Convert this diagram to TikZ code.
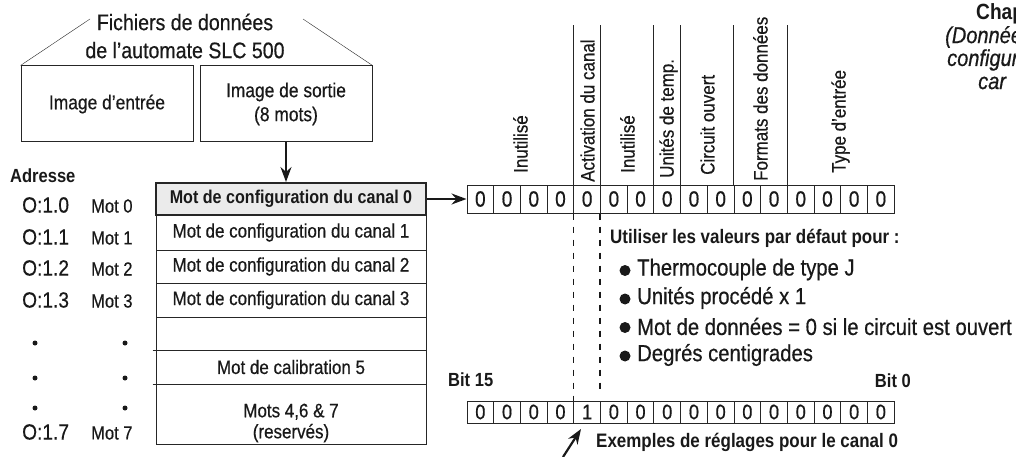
\documentclass[tikz,border=0pt]{standalone}
\usepackage{fontspec}
\setmainfont{Liberation Sans}[FakeStretch=0.87, UprightFeatures={FakeBold=0.5}, ItalicFeatures={FakeBold=0.5}]
\usetikzlibrary{arrows.meta,positioning}

\newcommand\sz[1]{\fontsize{#1}{#1}\selectfont}

\tikzset{
  ink/.style={draw=black!85},
  imgbox/.style={ink, line width=1pt, minimum width=172pt, minimum height=76pt, align=center, font=\fontsize{20}{24}\selectfont},
  wordrow/.style={ink, line width=1pt, minimum width=270pt, font=\sz{19.5}},
  cell/.style={ink, line width=1pt, minimum width=26.7pt, minimum height=28pt, font=\sz{22}},
  lowcell/.style={cell, minimum height=22pt, font=\sz{21}},
  arr/.style={-{Stealth[length=15pt,width=11pt]}, line width=1.8pt, black!90},
  dashline/.style={line width=1.5pt, dash pattern=on 6pt off 7pt, black!90},
  item/.style={anchor=west, font=\sz{23.3}},
  boldtxt/.style={anchor=west, font=\sz{19.5}\bfseries},
  side/.style={anchor=west, font=\sz{23}\itshape}
}

\begin{document}
\begin{tikzpicture}[x=1pt,y=-1pt,every node/.style={text=black!90, inner sep=0pt}]
\useasboundingbox[fill=white] (0,0) rectangle (1016,457);

% fichiers de donnees
\node[align=center, font=\fontsize{22.5}{28}\selectfont] (title) at (185,36) {Fichiers de données\\de l’automate SLC 500};
\node[imgbox] (img_in) at (107,104) {Image d’entrée};
\node[imgbox] (img_out) at (286,104) {Image de sortie\\(8 mots)};
\draw[ink] (img_in.north west) -- (90,19);
\draw[ink] (img_out.north east) -- (303,19);

% table des mots
\node[wordrow, minimum height=32pt, fill=black!8, line width=2pt, font=\sz{18.5}\bfseries] (cfg_0) at (291,199) {Mot de configuration du canal 0};
\node[wordrow, minimum height=35pt] (cfg_1) at (291,232.5) {Mot de configuration du canal 1};
\node[wordrow, minimum height=33pt] (cfg_2) at (291,266.5) {Mot de configuration du canal 2};
\node[wordrow, minimum height=34pt] (cfg_3) at (291,300) {Mot de configuration du canal 3};
\node[wordrow, minimum height=33pt] (cfg_4) at (291,333.5) {};
\node[wordrow, minimum height=34pt] (cfg_5) at (291,367) {Mot de calibration 5};
\node[wordrow, minimum height=60pt] (cfg_6) at (291,414) {};
\node[align=center, font=\fontsize{19.5}{21}\selectfont] (rsv) at (291,423) {Mots 4,6 \& 7\\(reservés)};
\draw[ink] (cfg_4.south west) ++(-3,0) -- (cfg_4.south east);
\draw[ink] (cfg_5.south west) ++(-3,0) -- (cfg_5.south east);
\draw[arr] (img_out.south) -- (img_out.south |- cfg_0.north);

% adresses
\node[anchor=west, font=\sz{19}\bfseries] (adr) at (10,176) {Adresse};
\foreach \k/\y in {0/205,1/237,2/268,3/300,7/432} {
  \node[anchor=west, font=\sz{22}] (o_\k) at (22,\y) {O:1.\k};
  \node[anchor=west, font=\sz{19}] (m_\k) at (91,\y+1) {Mot \k};
}
\foreach \y in {343,378,408} {
  \fill[black!90] (35,\y) circle (2.5pt);
  \fill[black!90] (125,\y) circle (2.5pt);
}

% bits
\foreach \i in {0,...,15} {
  \node[cell] (t\i) at ({480.35+26.7*\i},199) {0};
  \node[lowcell] (b\i) at ({480.35+26.7*\i},412) {\ifnum\i=4 1\else 0\fi};
}
\draw[arr] (cfg_0.east) -- (t0.west);
\foreach \k in {4,5,7,8,10,12}
  \draw[ink] (t\k.north west) -- ++(0,-159);
\foreach \txt/\xc/\yb in {Inutilisé/520.5/173, Activation du canal/587.5/182, Inutilisé/627.5/173,
    Unités de temp./668.5/178, Circuit ouvert/707.5/175, Formats des données/760.5/181, Type d’entrée/840.5/173}
  \node[rotate=90, anchor=west, font=\sz{19.5}] at (\xc,\yb) {\txt};

\draw[dashline] (t4.south west) -- (b4.north west);
\draw[dashline] (t5.south west) -- ++(0,177);

% valeurs par defaut
\node[boldtxt] (dflt) at (610,238) {Utiliser les valeurs par défaut pour :};
\foreach \txt [count=\n] in {Thermocouple de type J, Unités procédé x 1, Mot de données = 0 si le circuit est ouvert, Degrés centigrades} {
  \node[item] (it_\n) at (637,241+28.5*\n) {\txt};
  \fill[black!90] (it_\n.west) ++(-12,1) circle (5.5pt);
}

\node[boldtxt, font=\sz{19}\bfseries] (bit15) at (448,380) {Bit 15};
\node[boldtxt, anchor=east, font=\sz{19}\bfseries] (bit0) at (911,381) {Bit 0};

\node[boldtxt] (ex) at (596,442) {Exemples de réglages pour le canal 0};
\coordinate (ex_tail) at (563,457);
\coordinate (ex_tip) at (581,429);
\draw[arr, line width=2.2pt] (ex_tail) -- (ex_tip);

% texte coupe a droite
\node[anchor=west, font=\sz{22}\bfseries] (chap) at (976,14) {Chap};
\node[side] (side_1) at (945,37) {(Donnée};
\node[side] (side_2) at (947,60) {configur};
\node[side] (side_3) at (978,83) {car};
\end{tikzpicture}
\end{document}
